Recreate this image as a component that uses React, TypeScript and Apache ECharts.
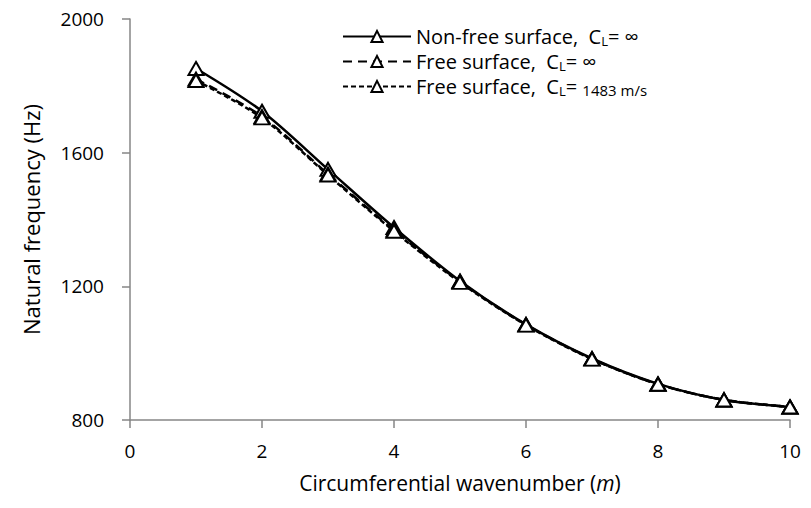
import React, { useEffect, useRef } from "react";
import * as echarts from "echarts";

const wavenumbers = [1, 2, 3, 4, 5, 6, 7, 8, 9, 10];
const nonFreeInf = [1852, 1724, 1550, 1376, 1216, 1086, 984, 908, 860, 839];
const freeInf = [1820, 1708, 1536, 1368, 1214, 1085, 983, 907, 860, 839];
const free1483 = [1816, 1704, 1533, 1365, 1212, 1084, 982, 907, 860, 839];
const seriesNames = ["Non-free surface", "Free surface", "Free surface 1483"];
const FONT = "'Open Sans', 'Noto Sans', sans-serif";

export default function App() {
  const ref = useRef<HTMLDivElement>(null);
  useEffect(() => {
    if (!ref.current) return;
    const chart = echarts.init(ref.current, null, { renderer: "svg" });
    const mk = (name: string, data: number[], type: any) => ({
      name,
      type: "line",
      data: wavenumbers.map((m, i) => [m, data[i]]),
      smooth: 0.3,
      symbol: "triangle",
      symbolSize: [15, 13],
      showSymbol: true,
      lineStyle: { color: "#000", width: 2.5, type },
      itemStyle: { color: "#fff", borderColor: "#000", borderWidth: 2 },
      z: 2,
    });
    const legendText: Record<string, string> = {
      [seriesNames[0]]: "Non-free surface,  {c|C}{sub|L}{c|= ∞}",
      [seriesNames[1]]: "Free surface,  {c|C}{sub|L}{c|= ∞}",
      [seriesNames[2]]: "Free surface,  {c|C}{sub|L}{c|= }{s|1483 m/s}",
    };
    chart.setOption({
      animation: false,
      backgroundColor: "#fff",
      grid: { left: 130, right: 21, top: 19, bottom: 88 },
      legend: {
        orient: "vertical",
        left: 337,
        top: 21,
        itemWidth: 68,
        itemHeight: 14,
        itemGap: 4,
        data: seriesNames,
        formatter: (n: string) => legendText[n],
        textStyle: {
          fontFamily: FONT,
          fontSize: 20,
          lineHeight: 21,
          color: "#000",
          rich: {
            c: { fontFamily: FONT, fontSize: 20, lineHeight: 21, color: "#000" },
            sub: { fontFamily: FONT, fontSize: 13, lineHeight: 21, color: "#000", verticalAlign: "bottom" },
            s: { fontFamily: FONT, fontSize: 15, lineHeight: 21, color: "#000", verticalAlign: "bottom" },
          },
        },
      },
      xAxis: {
        type: "value",
        min: 0,
        max: 10,
        interval: 2,
        name: "Circumferential wavenumber ({i|m})",
        nameLocation: "middle",
        nameGap: 52,
        nameTextStyle: {
          fontFamily: FONT,
          fontSize: 21,
          color: "#000",
          rich: { i: { fontFamily: FONT, fontSize: 21, fontStyle: "italic", color: "#000" } },
        },
        axisLine: { lineStyle: { color: "#868686", width: 1.5 } },
        axisTick: { show: true, length: 8, lineStyle: { color: "#868686", width: 1.5 } },
        splitLine: { show: false },
        axisLabel: { fontFamily: FONT, fontSize: 19, color: "#000", margin: 21, formatter: (v: number) => String(v) },
      },
      yAxis: {
        type: "value",
        min: 800,
        max: 2000,
        interval: 400,
        name: "Natural frequency (Hz)",
        nameLocation: "middle",
        nameGap: 88,
        nameTextStyle: { fontFamily: FONT, fontSize: 22, color: "#000" },
        axisLine: { show: true, lineStyle: { color: "#868686", width: 1.5 } },
        axisTick: { show: true, length: 8, lineStyle: { color: "#868686", width: 1.5 } },
        splitLine: { show: false },
        axisLabel: { fontFamily: FONT, fontSize: 19, color: "#000", margin: 26, formatter: (v: number) => String(v) },
      },
      series: [
        mk(seriesNames[0], nonFreeInf, "solid"),
        mk(seriesNames[1], freeInf, [9, 6]),
        mk(seriesNames[2], free1483, [5, 3]),
      ],
    });
    return () => chart.dispose();
  }, []);
  return <div ref={ref} style={{ width: 811, height: 508, position: "absolute", left: 0, top: 0 }} />;
}
